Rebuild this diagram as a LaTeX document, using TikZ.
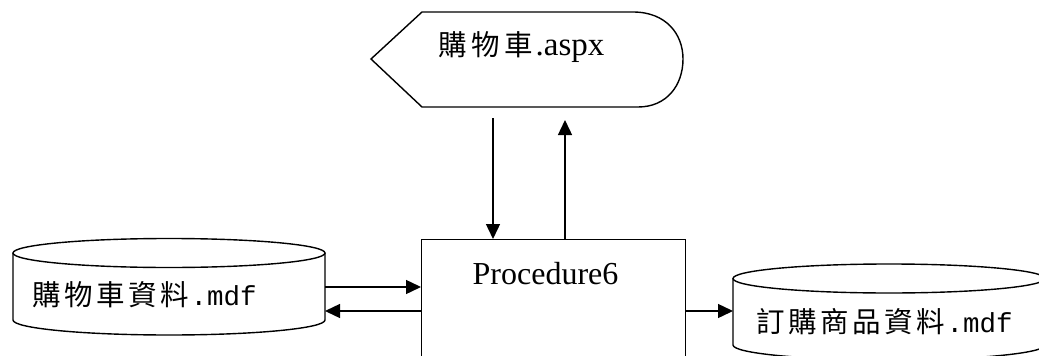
\documentclass[tikz,border=0pt]{standalone}
\usepackage{fontspec}
\setmainfont{Liberation Serif}
\newfontfamily\cjk{Noto Sans CJK TC}
\newfontfamily\lmono{Liberation Mono}
\usetikzlibrary{arrows.meta}
\newcommand\cc[2][32pt]{\makebox[#1][c]{\cjk #2}}
\begin{document}
\begin{tikzpicture}[x=1pt,y=-1pt,
  line width=1.4pt,
  conn/.style={-{Triangle[length=15pt,width=14pt]}},
  lbl/.style={inner sep=0pt, anchor=west},
  cj/.style={font=\fontsize{28.5}{32}\selectfont}]
\useasboundingbox (0,0) rectangle (1039,356);
\fill[white] (0,0) rectangle (1039,356);
% display shape
\draw (371,59) -- (422,12) -- (633,12)
  .. controls (666,12) and (683,34) .. (683,59)
  .. controls (683,85) and (667,107) .. (638,107)
  -- (422,107) -- cycle;
\node[lbl, cj] (aspx) at (436,47) {\cc[33pt]{購}\cc[33pt]{物}\cc[33pt]{車}{\fontsize{33}{36}\selectfont .aspx}};
% process box
\node[draw, rectangle, minimum width=264pt, minimum height=170pt, anchor=north west, inner sep=0pt] (proc) at (421,239) {};
\node[inner sep=0pt, font=\fontsize{32}{36}\selectfont] (proctext) at (545.5,274) {Procedure6};
% left cylinder
\draw (13,253) -- (13,320) arc[start angle=180, end angle=360, x radius=156pt, y radius=15pt] -- (325,253);
\draw (169,253) ellipse[x radius=156pt, y radius=14.5pt];
\node[lbl, cj] (cart) at (30,295) {\cc{購}\cc{物}\cc{車}\cc{資}\cc{料}{\lmono\fontsize{27.5}{32}\selectfont .mdf}};
% right cylinder
\draw (733,278.5) -- (733,345) arc[start angle=180, end angle=360, x radius=156pt, y radius=15pt] -- (1045,278.5);
\draw (889,278.5) ellipse[x radius=156pt, y radius=14.5pt];
\node[lbl, cj] (order) at (754,322) {\cc{訂}\cc{購}\cc{商}\cc{品}\cc{資}\cc{料}{\lmono\fontsize{27.5}{32}\selectfont .mdf}};
% connector endpoints
\coordinate (d1) at (493,118);
\coordinate (u1) at (565,120);
\coordinate (lc1) at (325,287);
\coordinate (lc2) at (325,311);
\coordinate (rc1) at (733,311);
\draw[conn] (d1) -- (d1 |- proc.north);
\draw[conn] (u1 |- proc.north) -- (u1);
\draw[conn] (lc1) -- (lc1 -| proc.west);
\draw[conn] (lc2 -| proc.west) -- (lc2);
\draw[conn] (rc1 -| proc.east) -- (rc1);
\end{tikzpicture}
\end{document}
